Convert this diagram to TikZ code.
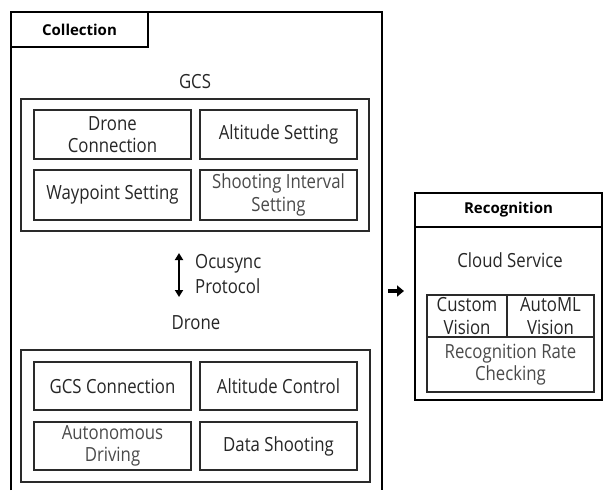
\documentclass[tikz,border=0pt]{standalone}
\usepackage{fontspec}
\setmainfont{Open Sans}[FakeStretch=0.86]
\newfontfamily\hdrfont{Open Sans}
\usetikzlibrary{arrows.meta}
\definecolor{txt}{HTML}{262626}
\definecolor{txtl}{HTML}{4A4A4A}
\definecolor{ln}{HTML}{2A2A2A}
\begin{document}
\begin{tikzpicture}[x=1pt,y=-1pt,
  box/.style={draw=ln, line width=1.1pt, inner sep=0pt, align=center, text=txt,
    font=\fontsize{19.5}{22.5}\selectfont},
  frame/.style={draw=ln, line width=1.1pt, inner sep=0pt},
  lbl/.style={inner sep=0pt, align=center, text=txt, font=\fontsize{19.5}{25}\selectfont},
  hdr/.style={draw=black, line width=1.1pt, inner sep=0pt, text=black,
    font=\hdrfont\bfseries\fontsize{15}{18}\selectfont},
  light/.style={text=txtl}]
\useasboundingbox (0,0) rectangle (604,490);
% Collection frame (open at bottom)
\draw[line width=1.1pt] (11,490) -- (11,12) -- (382,12) -- (382,490);
\node[hdr, minimum width=137pt, minimum height=35pt] (coll) at (79.5,29.5) {Collection};
% GCS
\node[lbl] (gcs) at (195,82) {GCS};
\node[frame, minimum width=348pt, minimum height=132pt] (gcsbox) at (195,165) {};
\node[box, minimum width=157pt, minimum height=49pt] (dconn) at (112.5,134.5) {Drone\\Connection};
\node[box, minimum width=157pt, minimum height=49pt] (aset) at (278.5,134.5) {Altitude Setting};
\node[box, minimum width=157pt, minimum height=50pt] (wset) at (112.5,195) {Waypoint Setting};
\node[box, light, minimum width=157pt, minimum height=50pt] (siset) at (278.5,195) {Shooting Interval\\Setting};
% Protocol arrow
\coordinate (pup) at (179,253);
\coordinate (pdn) at (179,297);
\draw[line width=1.8pt, {Triangle[length=7pt,width=8pt]}-{Triangle[length=7pt,width=8pt]}] (pup) -- (pdn);
\node[lbl, anchor=west, align=left] (proto) at (195,274) {Ocusync\\Protocol};
% Drone
\node[lbl] (drone) at (196,323) {Drone};
\node[frame, minimum width=349pt, minimum height=132pt] (dronebox) at (195.5,416) {};
\node[box, minimum width=157pt, minimum height=48pt] (gconn) at (112.5,386) {GCS Connection};
\node[box, minimum width=157pt, minimum height=48pt] (actl) at (278.5,386) {Altitude Control};
\node[box, light, minimum width=157pt, minimum height=48pt] (adrv) at (112.5,446) {Autonomous\\Driving};
\node[box, minimum width=157pt, minimum height=48pt] (dshoot) at (278.5,446) {Data Shooting};
% Right arrow
\coordinate (ra) at (388,291);
\coordinate (rb) at (404,291);
\draw[line width=4.5pt, -{Triangle[length=7pt,width=11pt]}] (ra) -- (rb);
% Recognition
\node[frame, draw=black, minimum width=187pt, minimum height=207pt] (recbox) at (508.5,296.5) {};
\node[hdr, minimum width=187pt, minimum height=34pt] (rec) at (508.5,210) {Recognition};
\node[lbl] (cloud) at (510,260) {Cloud Service};
\node[box, minimum width=80pt, minimum height=42pt] (cv) at (467,316) {Custom\\Vision};
\node[box, minimum width=87pt, minimum height=42pt] (aml) at (550.5,316) {AutoML\\Vision};
\node[box, light, minimum width=167pt, minimum height=55pt] (rrc) at (510.5,364.5) {Recognition Rate\\Checking};
\end{tikzpicture}
\end{document}
